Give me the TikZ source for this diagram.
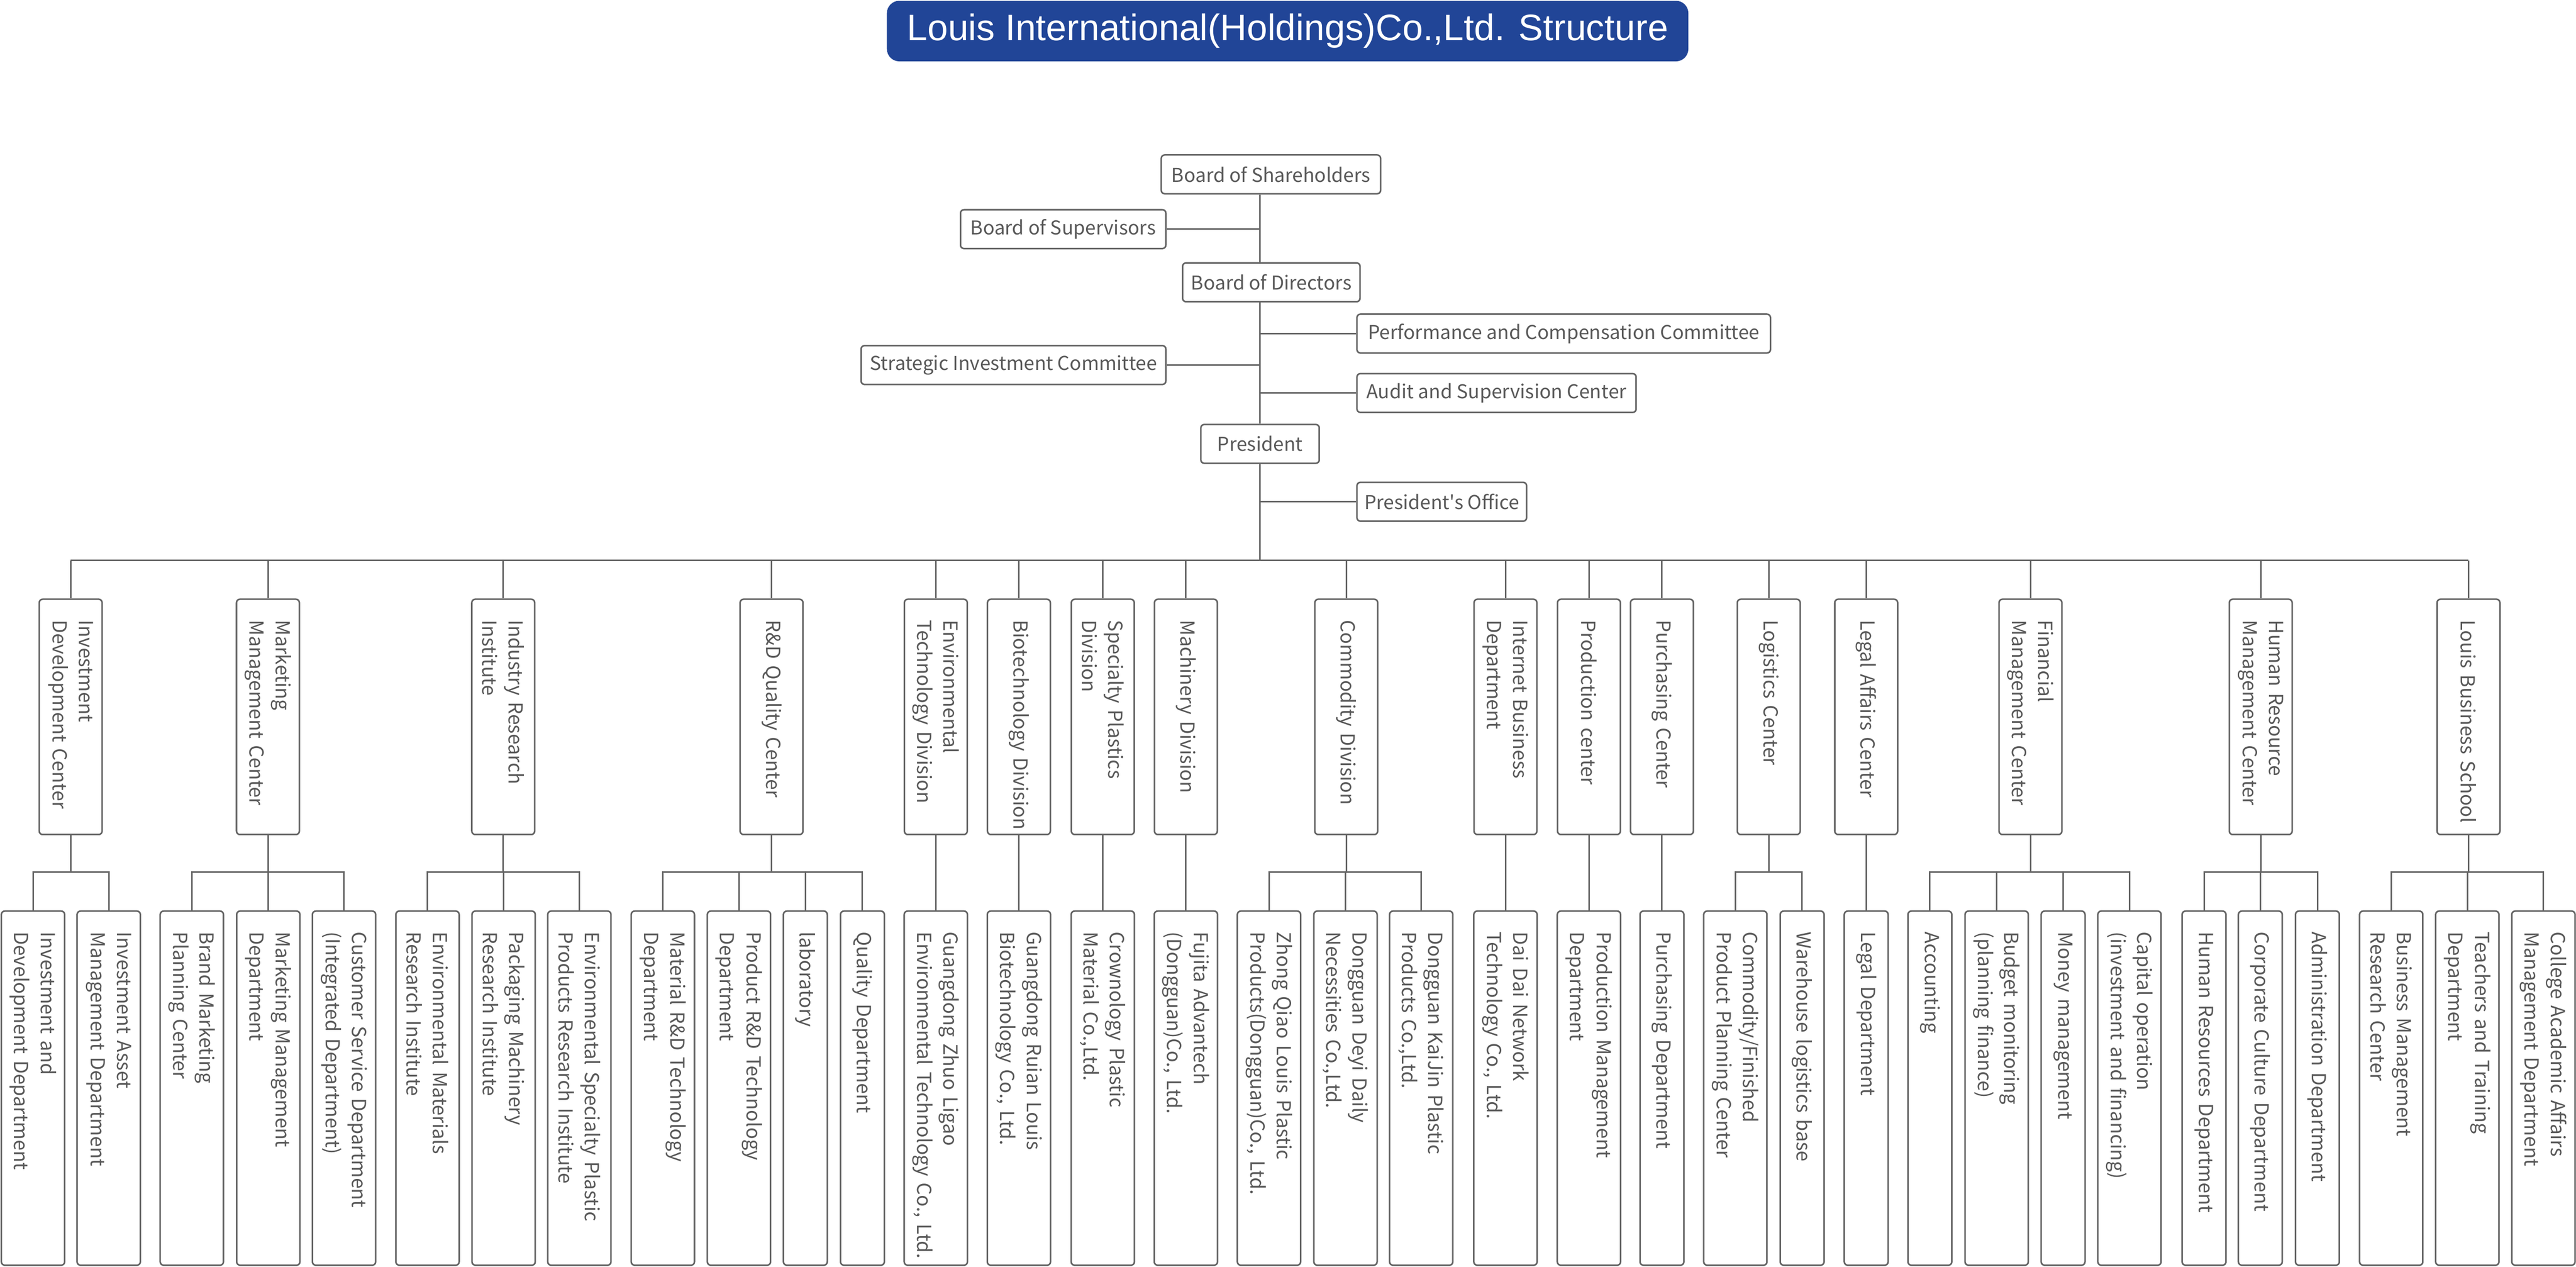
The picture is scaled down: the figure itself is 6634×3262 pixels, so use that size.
\documentclass[tikz,border=0pt]{standalone}
\usepackage{fontspec}
\newfontfamily\labelfont{Noto Sans CJK SC}
\newfontfamily\titlefont{Liberation Sans}

\definecolor{titleblue}{RGB}{33,69,151}
\definecolor{linegray}{RGB}{100,100,100}
\definecolor{textgray}{RGB}{88,88,88}

\tikzset{
  conn/.style={draw=linegray, line width=0.4mm},
  topbox/.style={draw=linegray, line width=0.4mm, rounded corners=0.9mm, text=textgray,
    minimum height=10mm, inner sep=0pt, font=\labelfont\fontsize{14}{16}\selectfont},
  vbox/.style={draw=linegray, line width=0.4mm, rounded corners=0.9mm, text=textgray,
    rotate=-90, align=left, inner xsep=5.4mm, inner ysep=0pt,
    font=\labelfont\fontsize{14.2}{19.4}\selectfont,
    execute at begin node={\rightskip=0pt plus 1fil minus 40mm}},
  centrebox/.style={vbox, minimum width=60.6mm, text width=49.8mm, minimum height=16.2mm},
  deptbox/.style={vbox, minimum width=91.2mm, text width=80.4mm, minimum height=16.3mm},
  thinbox/.style={deptbox, minimum height=11.3mm},
}

\begin{document}
\begin{tikzpicture}[x=0.1mm, y=-0.1mm]
  \useasboundingbox (0,0) rectangle (6634,3262);

  % title
  \node[fill=titleblue, rounded corners=3.2mm, minimum width=206.4mm, minimum height=15.6mm,
    text=white, font=\titlefont\fontsize{27}{32}\selectfont] (title) at (3316,80)
    {Louis International(Holdings)Co.,Ltd. Structure};

  % top of the structure
  \node[topbox, minimum width=56.5mm] (sh) at (3273,449) {Board of Shareholders};
  \node[topbox, minimum width=52.9mm] (sup) at (2738,590) {Board of Supervisors};
  \node[topbox, minimum width=45.7mm] (dir) at (3274,727) {Board of Directors};
  \node[topbox, minimum width=106.5mm] (perf) at (4027,859) {Performance and Compensation Committee};
  \node[topbox, minimum width=78.5mm] (strat) at (2610,940) {Strategic Investment Committee};
  \node[topbox, minimum width=71.9mm] (audit) at (3854,1012) {Audit and Supervision Center};
  \node[topbox, minimum width=30.5mm] (pres) at (3245,1143) {President};
  \node[topbox, minimum width=43.7mm] (pro) at (3713,1292) {President's Office};

  \coordinate (bus) at (3245,1443);
  \coordinate (sub) at (0,2246);

  \draw[conn] (bus |- sh.south) -- (bus |- dir.north);
  \draw[conn] (bus |- dir.south) -- (pres.north);
  \draw[conn] (pres.south) -- (bus);
  \draw[conn] (sup.east) -- (sup.east -| bus);
  \draw[conn] (strat.east) -- (strat.east -| bus);
  \draw[conn] (perf.west) -- (perf.west -| bus);
  \draw[conn] (audit.west) -- (audit.west -| bus);
  \draw[conn] (pro.west) -- (pro.west -| bus);

  % centres and divisions
  \node[centrebox] (inv) at (182,1846) {Investment\\Development Center};
  \node[centrebox] (mkt) at (690,1846) {Marketing\\Management Center};
  \node[centrebox] (iri) at (1296,1846) {Industry Research\\Institute};
  \node[centrebox] (rdq) at (1987,1846) {R\&D Quality Center};
  \node[centrebox] (env) at (2410,1846) {Environmental\\Technology Division};
  \node[centrebox] (bio) at (2624,1846) {Biotechnology Division};
  \node[centrebox] (spd) at (2840,1846) {Specialty Plastics\\Division};
  \node[centrebox] (mach) at (3054,1846) {Machinery Division};
  \node[centrebox] (com) at (3467,1846) {Commodity Division};
  \node[centrebox] (inet) at (3877,1846) {Internet Business\\Department};
  \node[centrebox] (prod) at (4092,1846) {Production center};
  \node[centrebox] (purch) at (4280,1846) {Purchasing Center};
  \node[centrebox] (logi) at (4555,1846) {Logistics Center};
  \node[centrebox] (legal) at (4806,1846) {Legal Affairs Center};
  \node[centrebox] (fin) at (5229,1846) {Financial\\Management Center};
  \node[centrebox] (hr) at (5822,1846) {Human Resource\\Management Center};
  \node[centrebox] (school) at (6357,1846) {Louis Business School};

  \draw[conn] (inv.west |- bus) -- (school.west |- bus);
  \draw[conn] (inv.west) -- (inv.west |- bus) (mkt.west) -- (mkt.west |- bus)
    (iri.west) -- (iri.west |- bus) (rdq.west) -- (rdq.west |- bus)
    (env.west) -- (env.west |- bus) (bio.west) -- (bio.west |- bus)
    (spd.west) -- (spd.west |- bus) (mach.west) -- (mach.west |- bus)
    (com.west) -- (com.west |- bus) (inet.west) -- (inet.west |- bus)
    (prod.west) -- (prod.west |- bus) (purch.west) -- (purch.west |- bus)
    (logi.west) -- (logi.west |- bus) (legal.west) -- (legal.west |- bus)
    (fin.west) -- (fin.west |- bus) (hr.west) -- (hr.west |- bus)
    (school.west) -- (school.west |- bus);

  % departments
  \node[deptbox] (inv1) at (85,2802) {Investment and\\Development Department};
  \node[deptbox] (inv2) at (280,2802) {Investment Asset\\Management Department};
  \node[deptbox] (mkt1) at (494,2802) {Brand Marketing\\Planning Center};
  \node[deptbox] (mkt2) at (691,2802) {Marketing Management\\Department};
  \node[deptbox] (mkt3) at (886,2802) {Customer Service Department\\(Integrated Department)};
  \node[deptbox] (iri1) at (1101,2802) {Environmental Materials\\Research Institute};
  \node[deptbox] (iri2) at (1297,2802) {Packaging Machinery\\Research Institute};
  \node[deptbox] (iri3) at (1492,2802) {Environmental Specialty Plastic\\Products Research Institute};
  \node[deptbox] (rdq1) at (1707,2802) {Material R\&D Technology\\Department};
  \node[deptbox] (rdq2) at (1903,2802) {Product R\&D Technology\\Department};
  \node[thinbox] (rdq3) at (2074,2802) {laboratory};
  \node[thinbox] (rdq4) at (2221,2802) {Quality Department};
  \node[deptbox] (env1) at (2410,2802) {Guangdong Zhuo Ligao\\Environmental Technology Co., Ltd.};
  \node[deptbox] (bio1) at (2624,2802) {Guangdong Ruian Louis\\Biotechnology Co., Ltd.};
  \node[deptbox] (spd1) at (2840,2802) {Crownology Plastic\\Material Co.,Ltd.};
  \node[deptbox] (mach1) at (3054,2802) {Fujita Advantech\\(Dongguan)Co., Ltd.};
  \node[deptbox] (com1) at (3268,2802) {Zhong Qiao Louis Plastic\\Products(Dongguan)Co., Ltd.};
  \node[deptbox] (com2) at (3465,2802) {Dongguan Deyi Daily\\Necessities Co.,Ltd.};
  \node[deptbox] (com3) at (3660,2802) {Dongguan KaiJin Plastic\\Products Co.,Ltd.};
  \node[deptbox] (inet1) at (3877,2802) {Dai Dai Network\\Technology Co., Ltd.};
  \node[deptbox] (prod1) at (4092,2802) {Production Management\\Department};
  \node[thinbox] (purch1) at (4280,2802) {Purchasing Department};
  \node[deptbox] (logi1) at (4469,2802) {Commodity/Finished\\Product Planning Center};
  \node[thinbox] (logi2) at (4641,2802) {Warehouse logistics base};
  \node[thinbox] (legal1) at (4806,2802) {Legal Department};
  \node[thinbox] (fin1) at (4970,2802) {Accounting};
  \node[deptbox] (fin2) at (5142,2802) {Budget monitoring\\(planning finance)};
  \node[thinbox] (fin3) at (5313,2802) {Money management};
  \node[deptbox] (fin4) at (5484,2802) {Capital operation\\(investment and financing)};
  \node[thinbox] (hr1) at (5676,2802) {Human Resources Department};
  \node[thinbox] (hr2) at (5821,2802) {Corporate Culture Department};
  \node[thinbox] (hr3) at (5968,2802) {Administration Department};
  \node[deptbox] (school1) at (6158,2802) {Business Management\\Research Center};
  \node[deptbox] (school2) at (6354,2802) {Teachers and Training\\Department};
  \node[deptbox] (school3) at (6550,2802) {College Academic Affairs\\Management Department};

  % groups below the centres
  \draw[conn] (inv.east) -- (inv.east |- sub);
  \draw[conn] (inv1.west) |- (inv2.west |- sub) -- (inv2.west);
  \draw[conn] (mkt.east) -- (mkt.east |- sub);
  \draw[conn] (mkt1.west) |- (mkt3.west |- sub) -- (mkt3.west);
  \draw[conn] (mkt2.west) -- (mkt2.west |- sub);
  \draw[conn] (iri.east) -- (iri.east |- sub);
  \draw[conn] (iri1.west) |- (iri3.west |- sub) -- (iri3.west);
  \draw[conn] (iri2.west) -- (iri2.west |- sub);
  \draw[conn] (rdq.east) -- (rdq.east |- sub);
  \draw[conn] (rdq1.west) |- (rdq4.west |- sub) -- (rdq4.west);
  \draw[conn] (rdq2.west) -- (rdq2.west |- sub) (rdq3.west) -- (rdq3.west |- sub);
  \draw[conn] (env.east) -- (env1.west);
  \draw[conn] (bio.east) -- (bio1.west);
  \draw[conn] (spd.east) -- (spd1.west);
  \draw[conn] (mach.east) -- (mach1.west);
  \draw[conn] (com.east) -- (com.east |- sub);
  \draw[conn] (com1.west) |- (com3.west |- sub) -- (com3.west);
  \draw[conn] (com2.west) -- (com2.west |- sub);
  \draw[conn] (inet.east) -- (inet1.west);
  \draw[conn] (prod.east) -- (prod1.west);
  \draw[conn] (purch.east) -- (purch1.west);
  \draw[conn] (logi.east) -- (logi.east |- sub);
  \draw[conn] (logi1.west) |- (logi2.west |- sub) -- (logi2.west);
  \draw[conn] (legal.east) -- (legal1.west);
  \draw[conn] (fin.east) -- (fin.east |- sub);
  \draw[conn] (fin1.west) |- (fin4.west |- sub) -- (fin4.west);
  \draw[conn] (fin2.west) -- (fin2.west |- sub) (fin3.west) -- (fin3.west |- sub);
  \draw[conn] (hr.east) -- (hr.east |- sub);
  \draw[conn] (hr1.west) |- (hr3.west |- sub) -- (hr3.west);
  \draw[conn] (hr2.west) -- (hr2.west |- sub);
  \draw[conn] (school.east) -- (school.east |- sub);
  \draw[conn] (school1.west) |- (school3.west |- sub) -- (school3.west);
  \draw[conn] (school2.west) -- (school2.west |- sub);
\end{tikzpicture}
\end{document}
